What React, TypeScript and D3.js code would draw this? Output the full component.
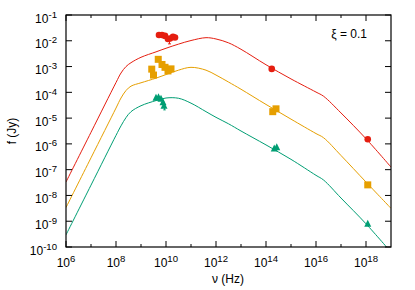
import React from 'react';
import * as d3 from 'd3';

// model curves, log10 values
const modelLogNu = [6, 7, 8, 8.2, 8.4, 8.6, 9, 9.6, 10, 10.5, 11, 11.6, 12, 12.5, 13, 14, 15, 16, 16.3, 17, 18, 19];
const redModelLogF = [-7.48, -5.55, -3.62, -3.25, -3.0, -2.85, -2.64, -2.43, -2.29, -2.13, -1.99, -1.88, -1.93, -2.08, -2.33, -2.93, -3.48, -3.99, -4.15, -4.8, -5.8, -6.9];
const orangeModelLogF = [-8.47, -6.54, -4.61, -4.22, -3.93, -3.76, -3.63, -3.45, -3.31, -3.14, -3.03, -3.14, -3.33, -3.6, -3.88, -4.47, -5.04, -5.6, -5.76, -6.45, -7.48, -8.5];
const greenModelLogF = [-9.53, -7.6, -5.67, -5.3, -4.98, -4.75, -4.52, -4.32, -4.22, -4.23, -4.42, -4.75, -4.97, -5.22, -5.5, -6.04, -6.6, -7.22, -7.4, -8.1, -9.1, -10.2];

// observed points
const redObsLogNu = [9.72, 9.84, 9.96, 10.08, 10.16, 10.28, 10.36, 14.23, 18.07];
const redObsLogF = [-1.775, -1.775, -1.81, -1.93, -1.91, -1.85, -1.87, -3.09, -5.82];
const orangeObsLogNu = [9.43, 9.5, 9.69, 9.84, 9.96, 10.08, 10.2, 14.27, 14.4, 18.07];
const orangeObsLogF = [-3.1, -3.33, -2.72, -2.92, -3.03, -3.17, -3.09, -4.75, -4.64, -7.59];
const greenObsLogNu = [9.6, 9.7, 9.8, 9.88, 9.92, 14.33, 14.43, 18.07];
const greenObsLogF = [-4.22, -4.2, -4.26, -4.39, -4.53, -6.19, -6.14, -9.11];

const xMajorExps = [6, 8, 10, 12, 14, 16, 18];
const xMinorExps = [7, 9, 11, 13, 15, 17];
const yExps = [-10, -9, -8, -7, -6, -5, -4, -3, -2, -1];

const RED = '#e51e10';
const ORANGE = '#e69f00';
const GREEN = '#009e73';

const W = 415;
const H = 290;
const left = 66, right = 391, top = 15, bottom = 247;

const x = d3.scaleLog().domain([1e6, 1e19]).range([left, right]);
const y = d3.scaleLog().domain([1e-10, 1e-1]).range([bottom, top]);

const p10 = (e: number) => Math.pow(10, e);

const line = d3.line<[number, number]>()
  .x(d => x(p10(d[0])))
  .y(d => y(p10(d[1])))
  .curve(d3.curveCatmullRom.alpha(0.5));

const font = '"Liberation Sans", Arial, sans-serif';

const Pow = ({ px, py, e, anchor }: { px: number; py: number; e: number; anchor: string }) => (
  <text x={px} y={py} textAnchor={anchor} fontSize={12} fontFamily={font} fill="#000">
    <tspan>10</tspan>
    <tspan dy={-5} fontSize={9.6}>{e}</tspan>
  </text>
);

const triangle = (cx: number, cy: number, s: number) =>
  `M${cx},${cy - s * 0.6}L${cx + s / 2},${cy + s * 0.4}L${cx - s / 2},${cy + s * 0.4}Z`;

export default function App() {
  const zip = (a: number[], b: number[]) => a.map((v, i) => [v, b[i]] as [number, number]);
  return (
    <svg width={W} height={H} style={{ position: 'absolute', left: 0, top: 0, background: '#fff' }}>
      <defs>
        <clipPath id="plot">
          <rect x={left} y={top} width={right - left} height={bottom - top} />
        </clipPath>
      </defs>

      {/* model curves */}
      <g clipPath="url(#plot)" fill="none" strokeWidth={1}>
        <path d={line(zip(modelLogNu, redModelLogF)) || ''} stroke={RED} />
        <path d={line(zip(modelLogNu, orangeModelLogF)) || ''} stroke={ORANGE} />
        <path d={line(zip(modelLogNu, greenModelLogF)) || ''} stroke={GREEN} />
      </g>

      {/* observed data */}
      <g>
        {redObsLogNu.map((n, i) => (
          <circle key={'r' + i} cx={x(p10(n))} cy={y(p10(redObsLogF[i]))} r={3.3} fill={RED} />
        ))}
        <line x1={x(p10(10.14))} x2={x(p10(10.14))} y1={y(p10(-1.9))} y2={y(p10(-2.12))} stroke={RED} />
        <line x1={x(p10(10.08))} x2={x(p10(10.2))} y1={y(p10(-2.12))} y2={y(p10(-2.12))} stroke={RED} />
        {orangeObsLogNu.map((n, i) => (
          <rect key={'o' + i} x={x(p10(n)) - 3.5} y={y(p10(orangeObsLogF[i])) - 3.5} width={7} height={7} fill={ORANGE} />
        ))}
        {greenObsLogNu.map((n, i) => (
          <path key={'g' + i} d={triangle(x(p10(n)), y(p10(greenObsLogF[i])), 7)} fill={GREEN} />
        ))}
        <line x1={x(p10(9.94))} x2={x(p10(9.94))} y1={y(p10(-4.5))} y2={y(p10(-4.68))} stroke={GREEN} />
        <line x1={x(p10(9.89))} x2={x(p10(9.99))} y1={y(p10(-4.68))} y2={y(p10(-4.68))} stroke={GREEN} />
      </g>

      {/* ticks */}
      <g stroke="#000" strokeWidth={1}>
        {xMajorExps.map(e => (
          <g key={'xm' + e}>
            <line x1={x(p10(e))} x2={x(p10(e))} y1={bottom} y2={bottom - 6} />
            <line x1={x(p10(e))} x2={x(p10(e))} y1={top} y2={top + 6} />
          </g>
        ))}
        {xMinorExps.map(e => (
          <g key={'xn' + e}>
            <line x1={x(p10(e))} x2={x(p10(e))} y1={bottom} y2={bottom - 3} />
            <line x1={x(p10(e))} x2={x(p10(e))} y1={top} y2={top + 3} />
          </g>
        ))}
        {yExps.map(e => (
          <g key={'y' + e}>
            <line x1={left} x2={left + 6} y1={y(p10(e))} y2={y(p10(e))} />
            <line x1={right} x2={right - 6} y1={y(p10(e))} y2={y(p10(e))} />
          </g>
        ))}
      </g>

      <rect x={left} y={top} width={right - left} height={bottom - top} fill="none" stroke="#000" strokeWidth={1.2} />

      {/* tick labels */}
      {xMajorExps.map(e => (
        <Pow key={'xl' + e} px={x(p10(e))} py={266.5} e={e} anchor="middle" />
      ))}
      {yExps.map(e => (
        <Pow key={'yl' + e} px={57} py={y(p10(e)) + 7.5} e={e} anchor="end" />
      ))}

      <text x={228} y={283} textAnchor="middle" fontSize={12} fontFamily={font}>ν (Hz)</text>
      <text transform="translate(16,131) rotate(-90)" textAnchor="middle" fontSize={12} fontFamily={font}>f (Jy)</text>
      <text x={367} y={38} textAnchor="end" fontSize={12} fontFamily={font}>ξ = 0.1</text>
    </svg>
  );
}
